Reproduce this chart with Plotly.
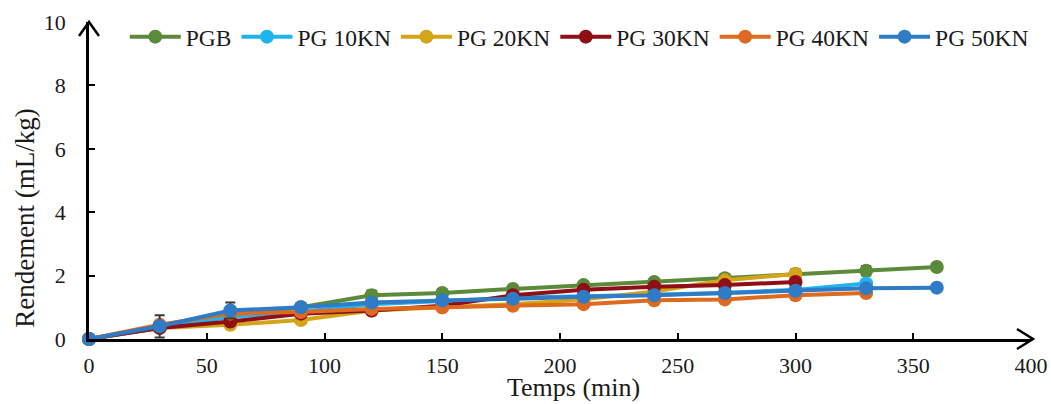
import plotly.graph_objects as go

# Extraction time (min) and yield (mL/kg) for each pressing condition
temps = [0, 30, 60, 90, 120, 150, 180, 210, 240, 270, 300, 330, 360]

pgb = [0, 0.40, 0.75, 1.00, 1.38, 1.45, 1.58, 1.70, 1.80, 1.92, 2.05, 2.15, 2.27]
pg10 = [0, 0.35, 0.70, 0.85, 1.10, 1.20, 1.30, 1.35, 1.40, 1.45, 1.55, 1.75]
pg20 = [0, 0.35, 0.45, 0.60, 0.90, 1.00, 1.10, 1.25, 1.50, 1.85, 2.05]
pg30 = [0, 0.35, 0.55, 0.80, 0.90, 1.05, 1.38, 1.55, 1.65, 1.70, 1.80]
pg40 = [0, 0.45, 0.80, 0.85, 0.95, 1.00, 1.05, 1.10, 1.22, 1.25, 1.38, 1.45]
pg50 = [0, 0.40, 0.90, 1.00, 1.15, 1.22, 1.27, 1.33, 1.38, 1.45, 1.52, 1.60, 1.62]

# Standard deviations
err_pgb = [0, 0, 0, 0, 0.15, 0.12, 0.08, 0.08, 0.08, 0.10, 0.15, 0.15, 0]
err_pg10 = [0] * len(pg10)
err_pg20 = [0, 0, 0, 0, 0, 0, 0, 0, 0, 0.15, 0.10]
err_pg30 = [0] * len(pg30)
err_pg40 = [0] * len(pg40)
err_pg50 = [0, 0.35, 0.25, 0, 0, 0, 0, 0, 0, 0, 0, 0, 0]

series = [
    ("PGB", pgb, err_pgb, "#5B8A3A"),
    ("PG 10KN", pg10, err_pg10, "#20B4EE"),
    ("PG 20KN", pg20, err_pg20, "#D4A419"),
    ("PG 30KN", pg30, err_pg30, "#8E0F16"),
    ("PG 40KN", pg40, err_pg40, "#DD6A1E"),
    ("PG 50KN", pg50, err_pg50, "#2F7BC6"),
]

FONT = "Liberation Serif"
INK = "#1a1a1a"

fig = go.Figure()
for name, ys, errs, color in series:
    fig.add_trace(go.Scatter(
        x=temps[:len(ys)], y=ys, name=name, mode="lines+markers",
        line=dict(color=color, width=4),
        marker=dict(color=color, size=14),
        error_y=dict(type="data", array=errs, visible=True,
                     color="#3a3a3a", thickness=2, width=5),
        cliponaxis=False,
    ))

fig.update_layout(
    width=1051, height=404,
    margin=dict(l=89, r=20, t=22, b=65, autoexpand=False),
    plot_bgcolor="white", paper_bgcolor="white",
    font=dict(family=FONT, size=22, color=INK),
    showlegend=True,
    legend=dict(orientation="h", x=0.038, y=0.953, xanchor="left", yanchor="middle",
                font=dict(family=FONT, size=23.5, color=INK),
                itemwidth=51, tracegroupgap=0, bgcolor="rgba(0,0,0,0)"),
    xaxis=dict(range=[0, 400], dtick=50, showgrid=False, zeroline=False,
               showline=True, linecolor="black", linewidth=2.5,
               ticks="inside", ticklen=6, tickwidth=2, tickcolor="black",
               ticklabelstandoff=5,
               tickfont=dict(family=FONT, size=22, color=INK)),
    yaxis=dict(range=[0, 10], dtick=2, showgrid=False, zeroline=False,
               showline=True, linecolor="black", linewidth=2.5,
               ticks="inside", ticklen=6, tickwidth=2, tickcolor="black",
               ticklabelstandoff=16,
               tickfont=dict(family=FONT, size=22, color=INK)),
    annotations=[
        dict(text="Temps (min)", xref="paper", yref="paper", x=0.514, y=-0.152,
             xanchor="center", yanchor="middle", showarrow=False,
             font=dict(family=FONT, size=26, color=INK)),
        dict(text="Rendement (mL/kg)", xref="paper", yref="paper", x=-0.068, y=0.382,
             xanchor="center", yanchor="middle", textangle=-90, showarrow=False,
             font=dict(family=FONT, size=27, color=INK)),
    ],
    shapes=[
        # arrow head on the top of the y axis
        dict(type="path", xref="x domain", yref="y domain", xsizemode="pixel",
             ysizemode="pixel", xanchor=0, yanchor=1,
             path="M -10,-14 L 0,0 L 10,-14", line=dict(color="black", width=2.5)),
        # arrow head on the right end of the x axis
        dict(type="path", xref="x domain", yref="y domain", xsizemode="pixel",
             ysizemode="pixel", xanchor=1, yanchor=0,
             path="M -14,10 L 2,0 L -14,-10", line=dict(color="black", width=2.5)),
    ],
)

fig.write_html("out.html")
